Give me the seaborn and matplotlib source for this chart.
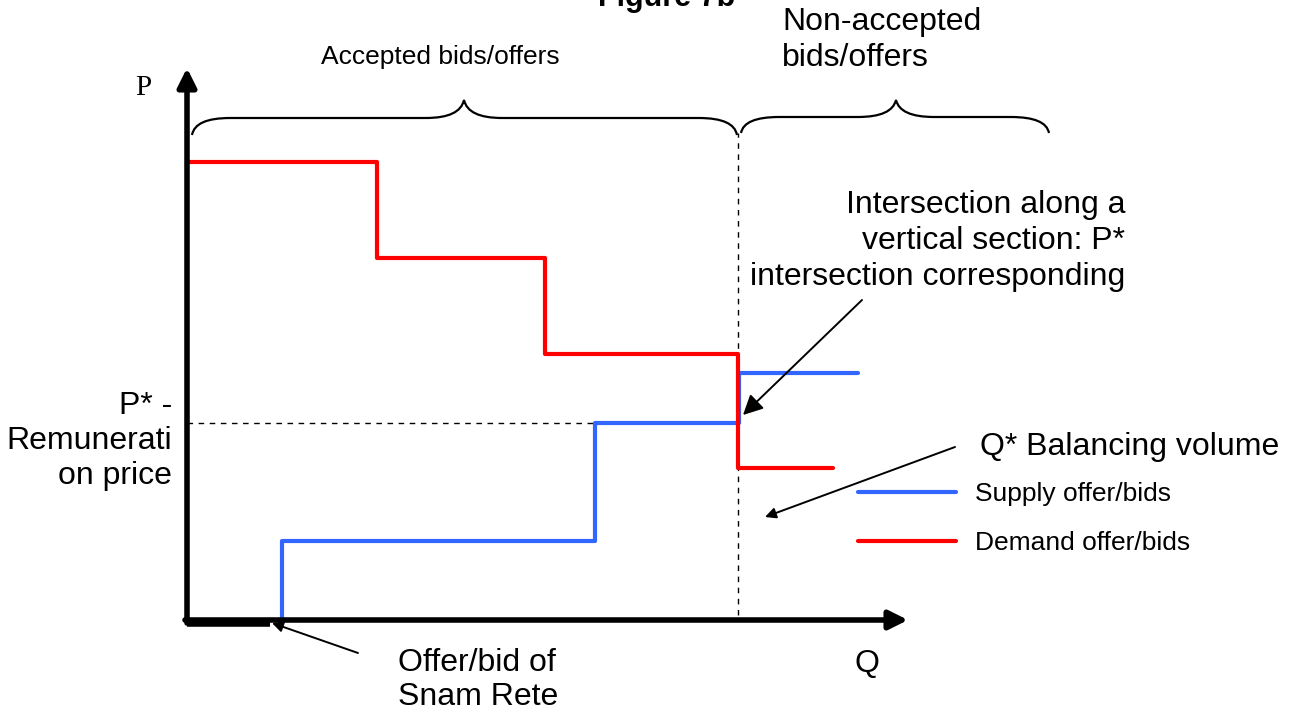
import numpy as np
import pandas as pd
import seaborn as sns
import matplotlib.pyplot as plt
from matplotlib.path import Path
from matplotlib.patches import PathPatch

# step curves in Q / P units (origin of the diagram at 0,0)
demand_q = [0, 19.0, 35.8, 55.1, 64.6]
demand_p = [45.8, 36.2, 26.6, 15.2, 15.2]
supply_q = [9.5, 9.5, 40.8, 55.2, 67.1]
supply_p = [0, 7.9, 19.7, 24.7, 24.7]
p_star = 19.7
q_star = 55.1
series_names = ['Supply offer/bids', 'Demand offer/bids']
series_colors = ['#3366ff', '#ff0000']

BIG = 23
SMALL = 19


def brace(ax, q0, q1, qm, y_end=48.5, y_mid=50.2, y_tip=52.0, r=3.8):
    '''curly brace drawn as a path of quadratic curves'''
    verts = [(q0, y_end), (q0 + 0.3, y_mid), (q0 + r, y_mid),
             (qm - r, y_mid),
             (qm - 0.4, y_mid), (qm, y_tip),
             (qm + 0.4, y_mid), (qm + r, y_mid),
             (q1 - r, y_mid),
             (q1 - 0.3, y_mid), (q1, y_end)]
    codes = [Path.MOVETO, Path.CURVE3, Path.CURVE3, Path.LINETO,
             Path.CURVE3, Path.CURVE3, Path.CURVE3, Path.CURVE3,
             Path.LINETO, Path.CURVE3, Path.CURVE3]
    ax.add_patch(PathPatch(Path(verts, codes), fill=False, lw=1.6, color='black'))


sns.set_theme(style='white')
plt.rcParams['font.family'] = ['Liberation Sans', 'DejaVu Sans']
plt.rcParams['text.color'] = 'black'

fig = plt.figure(figsize=(13, 7.15), dpi=100)
ax = fig.add_axes([0, 0, 1, 1])
ax.set_xlim(-18.7, 111.3)
ax.set_ylim(-9.5, 62.0)
ax.axis('off')

df = pd.concat([
    pd.DataFrame({'Q': supply_q, 'P': supply_p, 'series': series_names[0]}),
    pd.DataFrame({'Q': demand_q, 'P': demand_p, 'series': series_names[1]}),
])
sns.lineplot(data=df, x='Q', y='P', hue='series', hue_order=series_names,
             palette=dict(zip(series_names, series_colors)), sort=False,
             estimator=None, drawstyle='steps-post', lw=3, ax=ax, zorder=3)

sns.move_legend(ax, 'upper left', bbox_to_anchor=(858 / 1300, 1 - 482 / 715),
                bbox_transform=fig.transFigure, title=None, frameon=False,
                fontsize=SMALL, handlelength=3.7, handletextpad=0.75,
                labelspacing=0.95, borderpad=0, borderaxespad=0)
for t in ax.get_legend().get_texts():
    t.set_color('black')

# dashed guides at the equilibrium
ax.plot([0, q_star], [p_star, p_star], ls=(0, (4, 4)), lw=1, color='black', zorder=2)
ax.plot([q_star, q_star], [0.5, 48.7], ls=(0, (4, 4)), lw=1, color='black', zorder=2)

# axes with arrows
arrow = dict(arrowstyle='-|>', lw=4, color='black', mutation_scale=28,
             shrinkA=0, shrinkB=0)
ax.annotate('', xy=(0, 55.2), xytext=(0, -0.3), arrowprops=arrow, zorder=4)
ax.annotate('', xy=(72.1, 0), xytext=(-0.2, 0), arrowprops=arrow, zorder=4)
ax.plot([0, 8.3], [-0.35, -0.35], lw=4, color='black', solid_capstyle='butt', zorder=4)

# braces
brace(ax, 0.5, 55.0, 27.7)
brace(ax, 55.4, 86.2, 70.9, y_end=48.7, y_mid=50.3)

# labels (the title is cut off at the top edge, as in the source figure)
ax.text(48.0, 61.4, 'Figure 7b', ha='center', va='baseline', fontsize=22, fontweight='bold')
ax.text(25.3, 56.3, 'Accepted bids/offers', ha='center', va='center', fontsize=SMALL)
ax.text(59.5, 58.0, 'Non-accepted\nbids/offers', ha='left', va='center',
        fontsize=BIG, linespacing=1.22)
ax.text(-4.4, 53.2, 'P', ha='center', va='center', fontsize=21, family='Liberation Serif')
ax.text(68.0, -4.4, 'Q', ha='center', va='center', fontsize=BIG)
ax.text(93.8, 37.9, 'Intersection along a\nvertical section: P*\nintersection corresponding',
        ha='right', va='center', multialignment='right', fontsize=BIG, linespacing=1.27)
ax.text(-1.5, 17.9, 'P* -\nRemunerati\non price', ha='right', va='center',
        multialignment='right', fontsize=BIG, linespacing=1.2)
ax.text(79.3, 17.3, 'Q* Balancing volume', ha='left', va='center', fontsize=BIG)
ax.text(21.1, -6.0, 'Offer/bid of\nSnam Rete', ha='left', va='center',
        fontsize=BIG, linespacing=1.15)

# pointer arrows
ax.annotate('', xy=(55.6, 20.5), xytext=(67.5, 32.0),
            arrowprops=dict(arrowstyle='-|>', lw=1.4, color='black',
                            mutation_scale=30, shrinkA=0, shrinkB=0))
ax.annotate('', xy=(57.8, 10.3), xytext=(76.8, 17.3),
            arrowprops=dict(arrowstyle='-|>', lw=1.4, color='black',
                            mutation_scale=16, shrinkA=0, shrinkB=0))
ax.annotate('', xy=(8.5, -0.3), xytext=(17.1, -3.3),
            arrowprops=dict(arrowstyle='-|>', lw=1.4, color='black',
                            mutation_scale=16, shrinkA=0, shrinkB=0))

fig.savefig('out.png', dpi=100)
